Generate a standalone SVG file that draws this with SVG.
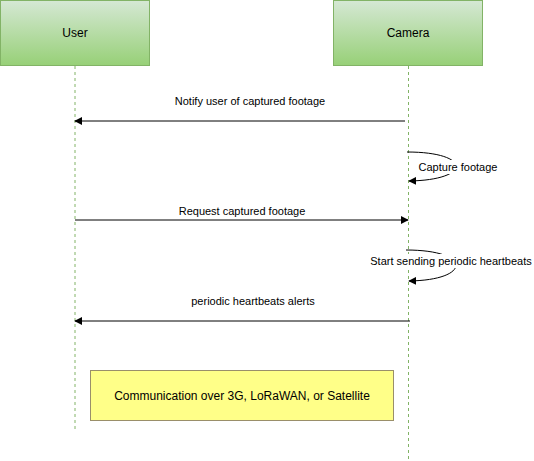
<svg xmlns="http://www.w3.org/2000/svg" width="534" height="461" viewBox="0 0 534 461">
<defs>
<linearGradient id="g" x1="0" y1="0" x2="0" y2="1">
<stop offset="0" stop-color="#d5e8d4"/>
<stop offset="1" stop-color="#97d077"/>
</linearGradient>
<marker id="ah" viewBox="0 0 10 10" refX="9" refY="5" markerWidth="8" markerHeight="8" markerUnits="userSpaceOnUse" orient="auto">
<path d="M0,0 L10,5 L0,10 Z" fill="#000"/>
</marker>
</defs>
<style>
.actor{fill:url(#g);stroke:#82b366;stroke-width:1}
.life{stroke:#82b366;stroke-width:1;stroke-dasharray:3 3;fill:none}
.msg{stroke:#000;stroke-width:1;fill:none;marker-end:url(#ah)}
text{font-family:"Liberation Sans",Arial,sans-serif;fill:#000;text-anchor:middle}
.lbl{font-size:11px}
.big{font-size:12px}
</style>
<rect width="534" height="461" fill="#fff"/>
<g id="user">
<rect class="actor" x="0.5" y="0.5" width="149" height="65"/>
<text class="big" x="75" y="37">User</text>
<line class="life" x1="75" y1="66" x2="75" y2="430"/>
</g>
<g id="camera">
<rect class="actor" x="333.5" y="0.5" width="149" height="65"/>
<text class="big" x="408" y="37">Camera</text>
<line class="life" x1="408.5" y1="66" x2="408.5" y2="461"/>
</g>
<g id="connectors">
<path class="msg" d="M405,121 H75"/>
<text class="lbl" x="250" y="105">Notify user of captured footage</text>
<path class="msg" d="M407,152 C472,152 472,180 409,181"/>
<rect x="418" y="160" width="80" height="14" fill="#fff"/>
<text class="lbl" x="458" y="171">Capture footage</text>
<path class="msg" d="M75,220 H408"/>
<text class="lbl" x="242" y="215">Request captured footage</text>
<path class="msg" d="M406,250 C472,250 472,280 409,281"/>
<rect x="369" y="254" width="163" height="14" fill="#fff"/>
<text class="lbl" x="451" y="265">Start sending periodic heartbeats</text>
<path class="msg" d="M410,321 H75"/>
<text class="lbl" x="253" y="305">periodic heartbeats alerts</text>
</g>
<g id="note">
<rect x="90.5" y="370.5" width="303" height="50" fill="#ffff88" stroke="#9a8f6a" stroke-width="1"/>
<text class="big" x="242" y="400">Communication over 3G, LoRaWAN, or Satellite</text>
</g>
</svg>
